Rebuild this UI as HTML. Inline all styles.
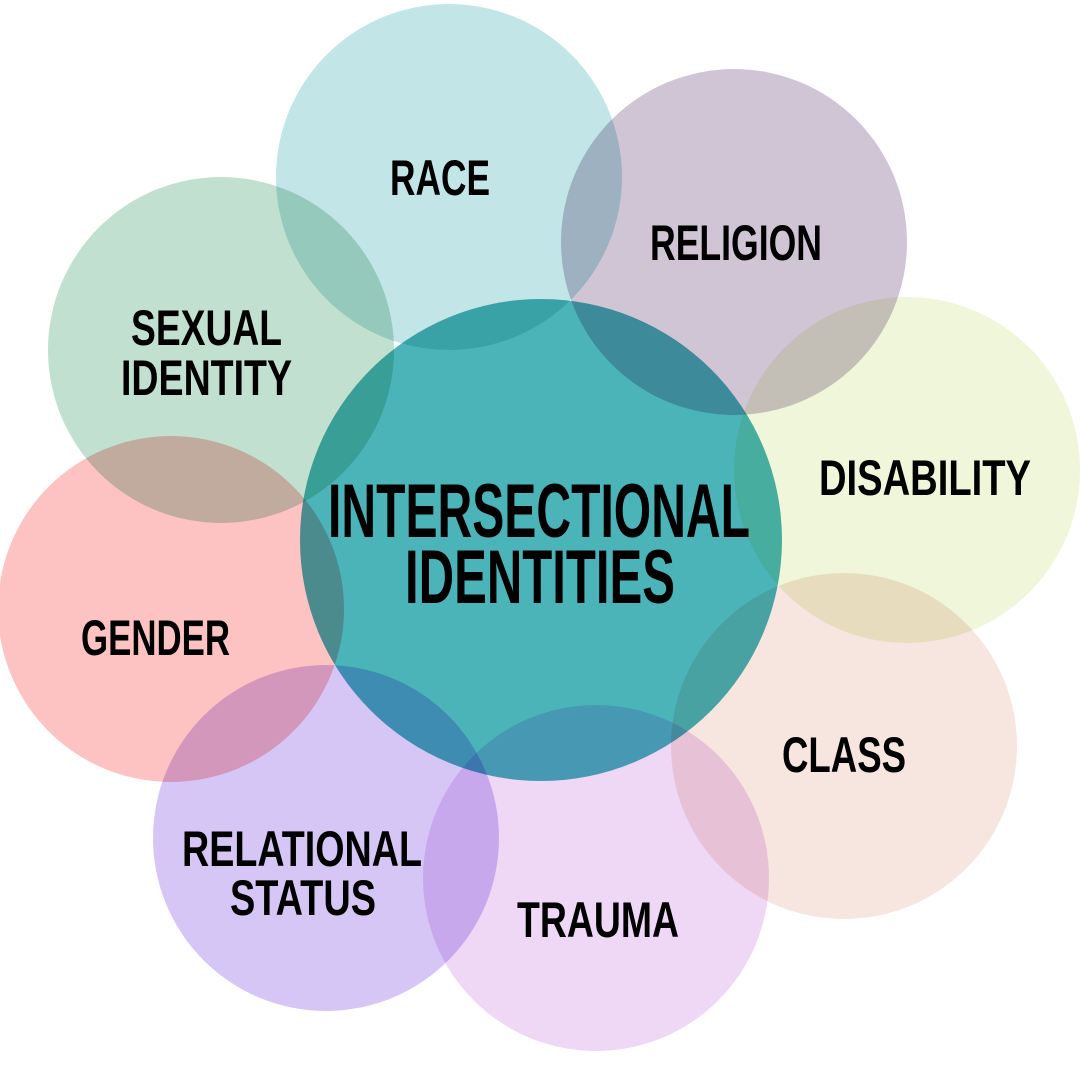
<!DOCTYPE html>
<html><head><meta charset="utf-8"><style>html,body{margin:0;padding:0;background:#fff}svg{display:block}circle{mix-blend-mode:multiply}</style></head>
<body>
<svg width="1080" height="1080" viewBox="0 0 1080 1080" xmlns="http://www.w3.org/2000/svg">
<rect width="1080" height="1080" fill="#fff"/>
<g style="isolation:isolate">
<circle cx="449" cy="177" r="173" fill="#c2e5e7"/>
<circle cx="221" cy="350" r="173" fill="#c2e0cf"/>
<circle cx="171" cy="609" r="173" fill="#fdc3c3"/>
<circle cx="541" cy="540" r="241" fill="#4bb4b9"/>
<circle cx="734" cy="242" r="173" fill="#d0c5d5"/>
<circle cx="907" cy="470" r="173" fill="#eff6da"/>
<circle cx="844" cy="746" r="173" fill="#f7e5df"/>
<circle cx="596" cy="878" r="173" fill="#efd8f5"/>
<circle cx="326" cy="838" r="173" fill="#d6c6f6"/>
</g>
<g font-family="Liberation Sans Narrow, Liberation Sans, sans-serif" font-weight="bold" fill="#000">
<text x="390" y="195" font-size="50" textLength="100" lengthAdjust="spacingAndGlyphs">RACE</text>
<text x="650" y="260" font-size="50" textLength="172" lengthAdjust="spacingAndGlyphs">RELIGION</text>
<text x="131" y="345" font-size="50" textLength="151" lengthAdjust="spacingAndGlyphs">SEXUAL</text>
<text x="121" y="395" font-size="50" textLength="171" lengthAdjust="spacingAndGlyphs">IDENTITY</text>
<text x="819" y="495" font-size="50" textLength="212" lengthAdjust="spacingAndGlyphs">DISABILITY</text>
<text x="81" y="655" font-size="50" textLength="149" lengthAdjust="spacingAndGlyphs">GENDER</text>
<text x="782" y="772" font-size="50" textLength="124" lengthAdjust="spacingAndGlyphs">CLASS</text>
<text x="182" y="866" font-size="50" textLength="240" lengthAdjust="spacingAndGlyphs">RELATIONAL</text>
<text x="230" y="915" font-size="50" textLength="146" lengthAdjust="spacingAndGlyphs">STATUS</text>
<text x="517" y="937" font-size="50" textLength="162" lengthAdjust="spacingAndGlyphs">TRAUMA</text>
<text x="328" y="537" font-size="76" textLength="422" lengthAdjust="spacingAndGlyphs">INTERSECTIONAL</text>
<text x="405" y="603" font-size="76" textLength="270" lengthAdjust="spacingAndGlyphs">IDENTITIES</text>
</g>
</svg>
</body></html>
